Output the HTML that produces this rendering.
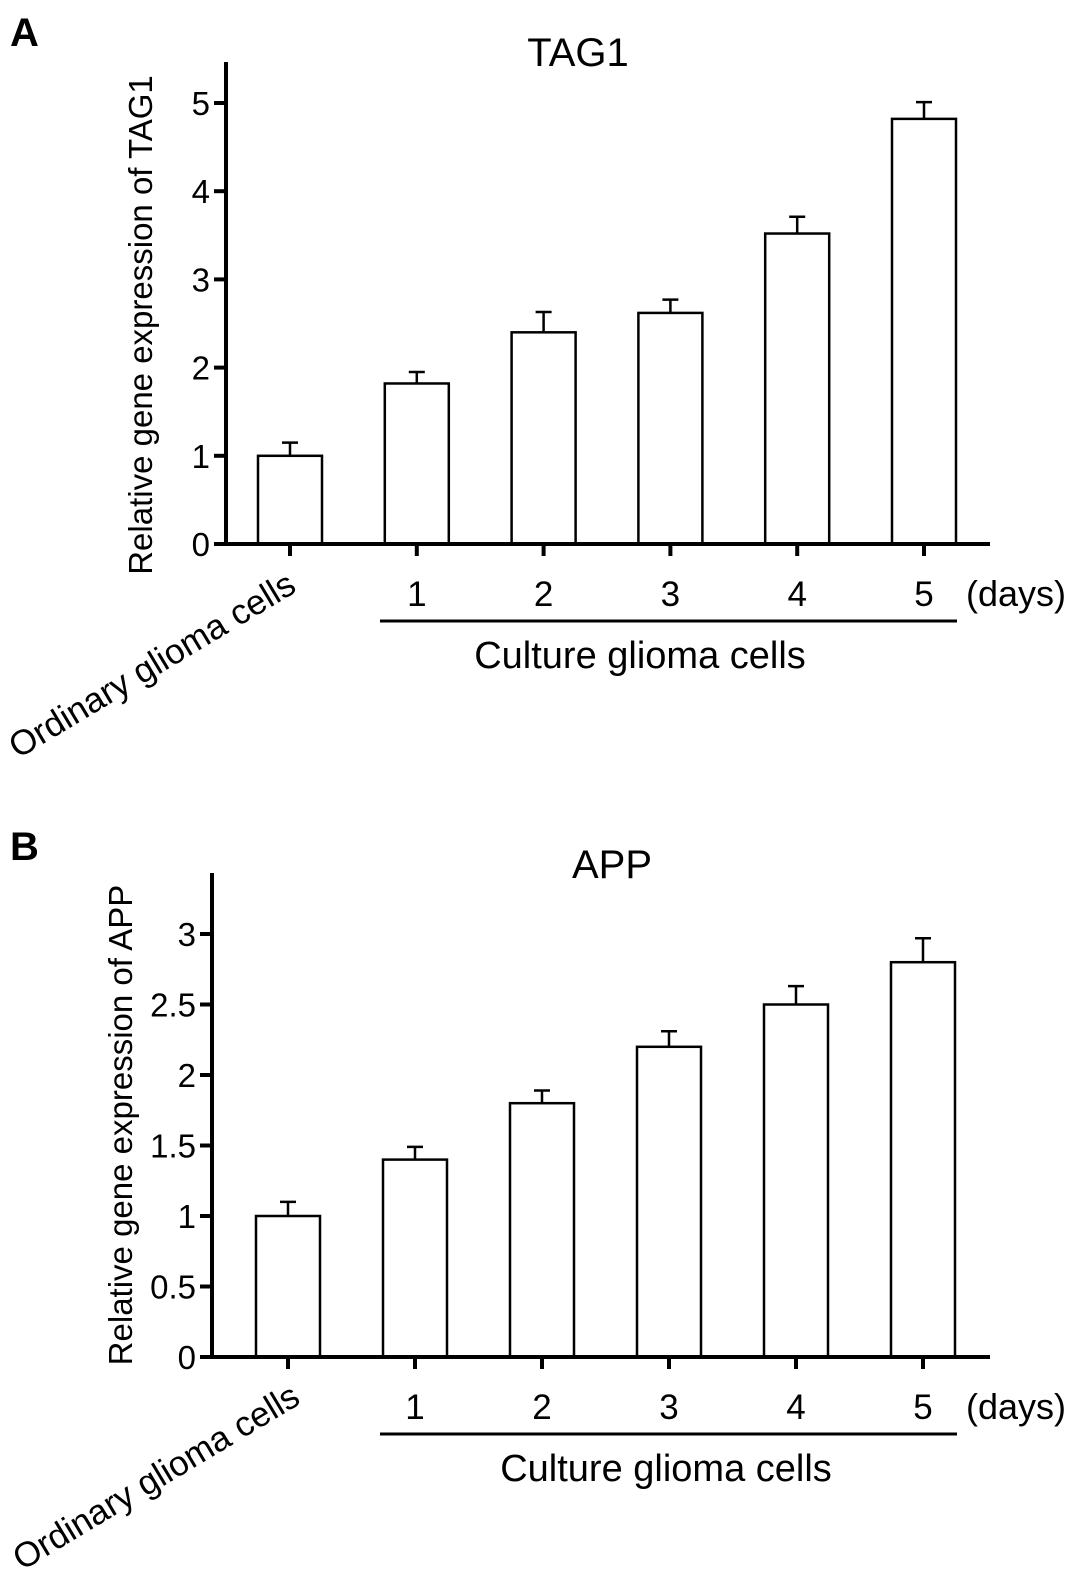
<!DOCTYPE html>
<html><head><meta charset="utf-8"><style>
html,body{margin:0;padding:0;background:#fff;}
svg{display:block;font-family:"Liberation Sans",Arial,sans-serif;}
</style></head><body>
<svg id="fig" width="1087" height="1577" viewBox="0 0 1087 1577" xmlns="http://www.w3.org/2000/svg"></svg>
<script>
const categories = ["Ordinary glioma cells","1","2","3","4","5"];
const tagValues = [1.0, 1.82, 2.40, 2.62, 3.52, 4.82];
const tagErrors = [0.15, 0.13, 0.23, 0.15, 0.19, 0.19];
const tagTicks = [0,1,2,3,4,5];
const appValues = [1.0, 1.40, 1.80, 2.20, 2.50, 2.80];
const appErrors = [0.10, 0.09, 0.09, 0.11, 0.13, 0.17];
const appTicks = [0,0.5,1,1.5,2,2.5,3];

const svg = document.getElementById('fig');
const NS = 'http://www.w3.org/2000/svg';
function mk(tag, attrs, text){
  const e = document.createElementNS(NS, tag);
  for (const k in attrs) e.setAttribute(k, attrs[k]);
  if (text !== undefined) e.textContent = text;
  svg.appendChild(e);
  return e;
}

function chart(p){
  const y = v => p.y0 - (v / p.ymax) * (p.y0 - p.ytop);
  const xc = i => p.xc0 + i * p.dx;
  let e;
  e = mk('text',{x:p.lx,y:p.ly,'font-size':40,'font-weight':'bold'},p.letter);
  
  
  e = mk('text',{x:p.tx,y:p.ty,'font-size':40,'text-anchor':'middle'},p.title);
  
  
  p.values.forEach((v,i)=>{
    const yt = y(v), ye = y(v + p.errors[i]);
    const b = mk('rect',{x:xc(i)-32,y:yt,width:64,height:p.y0-yt,fill:'#fff',stroke:'#000','stroke-width':2.5});
    
    
    const el = mk('path',{d:`M${xc(i)} ${yt} V${ye} M${xc(i)-8} ${ye} H${xc(i)+8}`,stroke:'#000','stroke-width':2.5,fill:'none'});
    
    
    const tk = mk('line',{x1:xc(i),x2:xc(i),y1:p.y0,y2:p.y0+12,stroke:'#000','stroke-width':4});
    
    
    if (i>0){
      const t = mk('text',{x:xc(i),y:p.y0+62,'font-size':35,'text-anchor':'middle'},categories[i]);
      
      
    }
  });
  e = mk('line',{x1:p.ax,x2:p.ax,y1:p.axtop,y2:p.y0+2,stroke:'#000','stroke-width':4});
  
  
  e = mk('line',{x1:p.ax-12,x2:990,y1:p.y0,y2:p.y0,stroke:'#000','stroke-width':4});
  
  
  p.ticks.forEach(t=>{
    const tl = mk('line',{x1:p.ax-12,x2:p.ax,y1:y(t),y2:y(t),stroke:'#000','stroke-width':4});
    
    
    const tt = mk('text',{x:p.ax-16,y:y(t)+12,'font-size':33,'text-anchor':'end'},String(t));
    
    
  });
  e = mk('text',{x:0,y:0,'font-size':33,'text-anchor':'middle',transform:`translate(${p.yx},${p.yy}) rotate(-90)`},p.ylabel);
  
  
  e = mk('text',{x:0,y:0,'font-size':35,'text-anchor':'middle',transform:`translate(${p.ox},${p.oy}) rotate(-31)`},categories[0]);
  
  
  e = mk('text',{x:966,y:p.y0+62,'font-size':36},'(days)');
  
  
  e = mk('line',{x1:380,x2:957,y1:p.y0+77,y2:p.y0+77,stroke:'#000','stroke-width':3});
  
  
  e = mk('text',{x:p.cx,y:p.y0+124,'font-size':38,'text-anchor':'middle'},'Culture glioma cells');
  
  
}

chart({id:'tag1',letter:'A',lx:10,ly:46,title:'TAG1',tx:578,ty:66,values:tagValues,errors:tagErrors,ticks:tagTicks,
  ymax:5,y0:544,ytop:103,axtop:62,ax:226,xc0:290,dx:126.8,ylabel:'Relative gene expression of TAG1',yx:152,yy:325,ox:158,oy:675,cx:640});
chart({id:'app',letter:'B',lx:10,ly:860,title:'APP',tx:612,ty:878,values:appValues,errors:appErrors,ticks:appTicks,
  ymax:3,y0:1357,ytop:934,axtop:873,ax:212,xc0:288,dx:127,ylabel:'Relative gene expression of APP',yx:132,yy:1125,ox:162,oy:1487,cx:666});
</script>
</body></html>
